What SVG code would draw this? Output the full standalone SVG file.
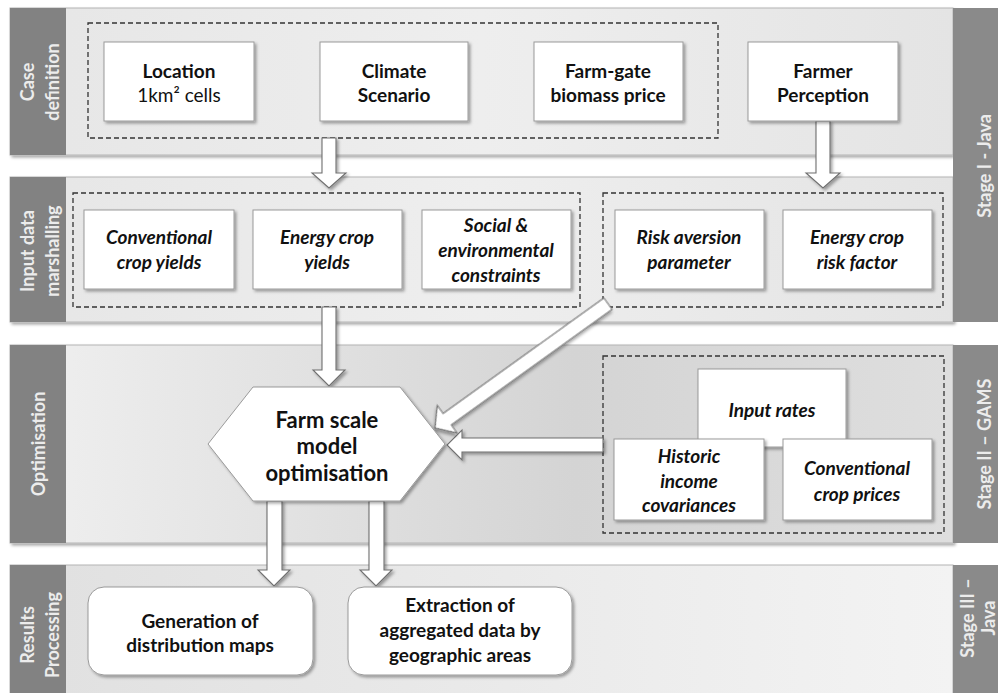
<svg xmlns="http://www.w3.org/2000/svg" width="998" height="693" viewBox="0 0 998 693">
<defs>
<style>
.strip{fill:#828282}
.rstrip{fill:#8a8a8a}
.band{stroke:#b4b4b4;stroke-width:1}
.lbl{fill:#ececec;font-family:Lato,"Open Sans","Liberation Sans",sans-serif;font-weight:bold;font-size:18px;text-anchor:middle}
.box{fill:#fff;stroke:#9a9a9a;stroke-width:1}
.dash{fill:none;stroke:#333;stroke-width:1.3;stroke-dasharray:5,3}
.t{fill:#111;font-family:Lato,"Open Sans","Liberation Sans",sans-serif;font-weight:bold;font-size:19px;text-anchor:middle}
.ti{font-style:italic}
.tn{font-weight:normal}
.big{font-size:22px}
.arr{fill:#fff;stroke:#6f6f6f;stroke-width:1.1;stroke-linejoin:miter}
</style>
<filter id="sh" x="-10%" y="-10%" width="130%" height="140%">
<feDropShadow dx="2" dy="2" stdDeviation="1.5" flood-color="#000" flood-opacity="0.35"/>
</filter>
<linearGradient id="g1" x1="0" y1="0" x2="1" y2="0">
<stop offset="0" stop-color="#e6e6e6"/><stop offset="0.5" stop-color="#eeeeee"/><stop offset="1" stop-color="#e4e4e4"/>
</linearGradient>
<linearGradient id="g3" x1="0" y1="0" x2="1" y2="0">
<stop offset="0" stop-color="#f0f0f0"/><stop offset="0.6" stop-color="#d4d4d4"/><stop offset="1" stop-color="#dedede"/>
</linearGradient>
<linearGradient id="g4" x1="0" y1="0" x2="1" y2="0">
<stop offset="0" stop-color="#e0e0e0"/><stop offset="1" stop-color="#f3f3f3"/>
</linearGradient>
</defs>
<rect width="998" height="693" fill="#fff"/>

<g id="lanes">
<rect class="band" x="10" y="8" width="943" height="147" fill="url(#g1)" filter="url(#sh)"/>
<rect class="band" x="10" y="177" width="943" height="145" fill="url(#g1)" filter="url(#sh)"/>
<rect class="band" x="10" y="345" width="943" height="198" fill="url(#g3)" filter="url(#sh)"/>
<rect class="band" x="10" y="565" width="943" height="130" fill="url(#g4)"/>
<rect class="strip" x="10" y="8" width="56" height="147"/>
<rect class="strip" x="10" y="177" width="56" height="145"/>
<rect class="strip" x="10" y="345" width="56" height="198"/>
<rect class="strip" x="10" y="565" width="56" height="130"/>
<rect class="rstrip" x="953" y="8" width="45" height="314"/>
<rect class="rstrip" x="953" y="345" width="45" height="198"/>
<rect class="rstrip" x="953" y="565" width="45" height="130"/>
<text class="lbl" transform="translate(34,82) rotate(-90)">Case</text>
<text class="lbl" transform="translate(59,82) rotate(-90)">definition</text>
<text class="lbl" transform="translate(34,251) rotate(-90)">Input data</text>
<text class="lbl" transform="translate(59,251) rotate(-90)">marshalling</text>
<text class="lbl" transform="translate(45,444) rotate(-90)">Optimisation</text>
<text class="lbl" transform="translate(34,635) rotate(-90)">Results</text>
<text class="lbl" transform="translate(59,635) rotate(-90)">Processing</text>
<text class="lbl" transform="translate(991,166) rotate(-90)">Stage I - Java</text>
<text class="lbl" transform="translate(991,444) rotate(-90)">Stage II – GAMS</text>
<text class="lbl" transform="translate(974,618) rotate(-90)">Stage III –</text>
<text class="lbl" transform="translate(995,618) rotate(-90)">Java</text>
</g>

<g id="groups">
<rect class="dash" x="88" y="23" width="630" height="115"/>
<rect class="dash" x="73" y="193" width="507" height="114"/>
<rect class="dash" x="603" y="193" width="340" height="114"/>
<rect class="dash" x="603" y="356" width="341" height="177"/>
</g>

<g id="connectors">
<polygon class="arr" filter="url(#sh)" points="322,138 336,138 336,173 346,173 329,188 312,173 322,173"/>
<polygon class="arr" filter="url(#sh)" points="816,121 830,121 830,173 840,173 823,188 806,173 816,173"/>
<polygon class="arr" filter="url(#sh)" points="322,307 336,307 336,370 345,370 329,386 313,370 322,370"/>
<polygon class="arr" filter="url(#sh)" points="603,438 603,452 462,452 462,460 447,445 462,430 462,438"/>
<polygon class="arr" filter="url(#sh)" transform="translate(435,428) rotate(54.3)" points="-7,-213 7,-213 7,-15 17,-15 0,0 -17,-15 -7,-15"/>
<polygon class="arr" filter="url(#sh)" points="267,501 282,501 282,570 290,570 274,586 258,570 267,570"/>
<polygon class="arr" filter="url(#sh)" points="369,501 384,501 384,570 392,570 376,586 360,570 369,570"/>
</g>

<g id="location"><rect class="box" filter="url(#sh)" x="104" y="42" width="150" height="79"/>
<text class="t" x="179" y="78">Location</text><text class="t tn" x="179" y="102">1km² cells</text></g>
<g id="climate"><rect class="box" filter="url(#sh)" x="320" y="42" width="148" height="79"/>
<text class="t" x="394" y="78">Climate</text><text class="t" x="394" y="102">Scenario</text></g>
<g id="price"><rect class="box" filter="url(#sh)" x="534" y="42" width="149" height="79"/>
<text class="t" x="608" y="78">Farm-gate</text><text class="t" x="608" y="102">biomass price</text></g>
<g id="farmer"><rect class="box" filter="url(#sh)" x="748" y="42" width="150" height="79"/>
<text class="t" x="823" y="78">Farmer</text><text class="t" x="823" y="102">Perception</text></g>

<g id="convyields"><rect class="box" filter="url(#sh)" x="84" y="210" width="150" height="79"/>
<text class="t ti" x="159" y="244">Conventional</text><text class="t ti" x="159" y="269">crop yields</text></g>
<g id="energyyields"><rect class="box" filter="url(#sh)" x="253" y="210" width="149" height="79"/>
<text class="t ti" x="327" y="244">Energy crop</text><text class="t ti" x="327" y="269">yields</text></g>
<g id="social"><rect class="box" filter="url(#sh)" x="422" y="210" width="149" height="79"/>
<text class="t ti" x="496" y="232">Social &amp;</text><text class="t ti" x="496" y="257">environmental</text><text class="t ti" x="496" y="282">constraints</text></g>
<g id="riskaversion"><rect class="box" filter="url(#sh)" x="615" y="210" width="149" height="79"/>
<text class="t ti" x="689" y="244">Risk aversion</text><text class="t ti" x="689" y="269">parameter</text></g>
<g id="riskfactor"><rect class="box" filter="url(#sh)" x="783" y="210" width="149" height="79"/>
<text class="t ti" x="857" y="244">Energy crop</text><text class="t ti" x="857" y="269">risk factor</text></g>

<g id="farmmodel"><polygon class="box" filter="url(#sh)" points="253,387 400,387 445,444 400,501 253,501 208,444"/>
<text class="t big" x="327" y="428">Farm scale</text><text class="t big" x="327" y="454">model</text><text class="t big" x="327" y="481">optimisation</text></g>

<g id="inputrates"><rect class="box" filter="url(#sh)" x="698" y="369" width="148" height="78"/>
<text class="t ti" x="772" y="417">Input rates</text></g>
<g id="covariances"><rect class="box" filter="url(#sh)" x="614" y="439" width="150" height="81"/>
<text class="t ti" x="689" y="463">Historic</text><text class="t ti" x="689" y="488">income</text><text class="t ti" x="689" y="512">covariances</text></g>
<g id="cropprices"><rect class="box" filter="url(#sh)" x="783" y="439" width="149" height="81"/>
<text class="t ti" x="857" y="475">Conventional</text><text class="t ti" x="857" y="501">crop prices</text></g>

<g id="maps"><rect class="box" filter="url(#sh)" x="88" y="587" width="225" height="88" rx="16"/>
<text class="t" x="200" y="628">Generation of</text><text class="t" x="200" y="652">distribution maps</text></g>
<g id="extraction"><rect class="box" filter="url(#sh)" x="348" y="587" width="224" height="88" rx="16"/>
<text class="t" x="460" y="612">Extraction of</text><text class="t" x="460" y="637">aggregated data by</text><text class="t" x="460" y="662">geographic areas</text></g>
</svg>
